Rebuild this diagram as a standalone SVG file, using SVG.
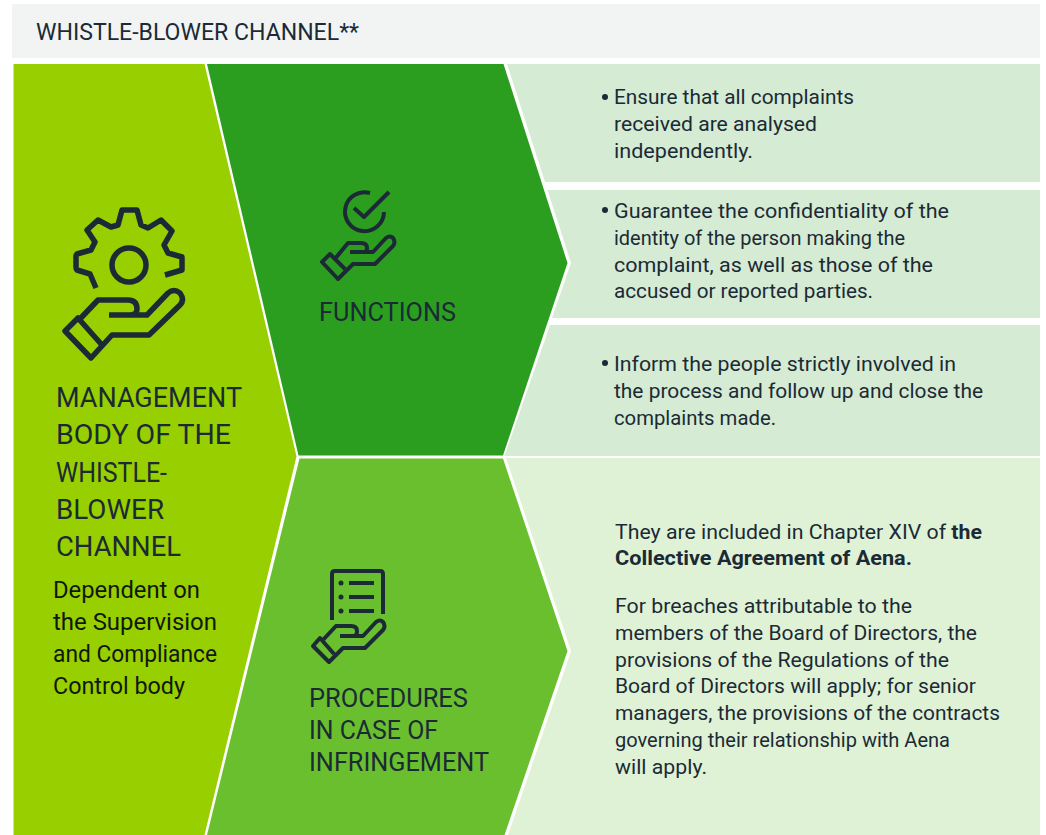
<svg xmlns="http://www.w3.org/2000/svg" width="1046" height="835" viewBox="0 0 1046 835">
<style>
text{font-family:"Roboto","Liberation Sans",sans-serif;fill:#1b2a35}
.h{font-size:26px;font-weight:400}
.b{font-size:21px}
.s{font-weight:700}
text.t{font-size:23px;fill:#10180c}
.i{fill:none;stroke:#1b2a35;stroke-linejoin:round}
</style>
<rect width="1046" height="835" fill="#fff"/>
<g id="header"><rect x="12" y="4" width="1028" height="54" fill="#f2f4f4"/>
<text class="h" x="36" y="40" style="font-size:24px" textLength="323" lengthAdjust="spacingAndGlyphs">WHISTLE-BLOWER CHANNEL**</text></g>
<g id="management">
<polygon points="13.5,64 204.500,64 296.500,456.500 204.500,835 13.500,835" fill="#98cf00"/>
<g class="i" stroke-width="5.500">
<path d="M96 288 L90 274 L77 270 Q76 269 76 267 L76 256 Q76 255 77 254 L91 250 L95 242 L87 230 L98 220 L111 227 L118 225 L122 210 L137 210 L141 225 L148 228 L161 220 L172 231 L164 245 L168 253 L182 257 L182 270 L165 275"/>
<circle cx="129" cy="265" r="17"/>
<path d="M78 321 L98 300 H128 Q137 300 137 309 Q137 315 130 315 H109 M109 315 H147 L168 293 Q174 288 180 293 Q185 300 180 305 L149 335 H112 L91 358 L65 331 L78 318 L102 345"/></g>
<text class="h" x="56" y="407" textLength="186" lengthAdjust="spacingAndGlyphs" style="font-size:28px">MANAGEMENT</text>
<text class="h" x="56" y="444" textLength="175" lengthAdjust="spacingAndGlyphs" style="font-size:28px">BODY OF THE</text>
<text class="h" x="56" y="482" textLength="111" lengthAdjust="spacingAndGlyphs" style="font-size:28px">WHISTLE-</text>
<text class="h" x="56" y="519" textLength="108" lengthAdjust="spacingAndGlyphs" style="font-size:28px">BLOWER</text>
<text class="h" x="56" y="556" textLength="125" lengthAdjust="spacingAndGlyphs" style="font-size:28px">CHANNEL</text>
<text class="t" x="53" y="598" textLength="147" lengthAdjust="spacingAndGlyphs">Dependent on</text>
<text class="t" x="53" y="630" textLength="164" lengthAdjust="spacingAndGlyphs">the Supervision</text>
<text class="t" x="53" y="662" textLength="164" lengthAdjust="spacingAndGlyphs">and Compliance</text>
<text class="t" x="53" y="694" textLength="132" lengthAdjust="spacingAndGlyphs">Control body</text>
</g>
<g id="functions">
<polygon points="207,64 503.500,64 567.500,263 503,455.500 298.500,455.500" fill="#2b9e1f"/>
<g class="i" stroke-width="4">
<path d="M384 212 A19.500 19.500 0 1 1 370 193"/>
<path d="M354 208 L364 217 L389 192"/>
<path d="M334 260 L348 243 H361 Q367 243 367 248 Q367 252 364 252 H350 M350 252 H373 L386 238 Q390 235 393 238 Q396 242 393 246 L375 264 H353 L338 279 L322 262 L330 254 L345 269"/></g>
<text class="h" x="319" y="321" textLength="137" lengthAdjust="spacingAndGlyphs">FUNCTIONS</text>
</g>
<g id="procedures">
<polygon points="299.500,458.500 503,458.500 567.500,651 504.500,835 207,835" fill="#6abf2e"/>
<g class="i" stroke-width="4">
<path d="M332 620 V574 Q332 571 335 571 H380 Q383 571 383 574 V614"/>
<path d="M349 583 H374 M349 597 H374 M349 611 H374"/>
<path d="M322 641 L336 626 H351 Q357 626 357 631 Q357 636 354 636 H340 M340 636 H363 L376 622 Q380 619 383 622 Q386 626 383 630 L365 648 H343 L329 662 L313 646 L320 638 L334 654"/></g>
<g fill="#1b2a35"><circle cx="341" cy="583" r="2.500"/><circle cx="341" cy="597" r="2.500"/><circle cx="341" cy="611" r="2.500"/></g>
<text class="h" x="309" y="707" textLength="159" lengthAdjust="spacingAndGlyphs">PROCEDURES</text>
<text class="h" x="309" y="739" textLength="129" lengthAdjust="spacingAndGlyphs">IN CASE OF</text>
<text class="h" x="309" y="771" textLength="180" lengthAdjust="spacingAndGlyphs">INFRINGEMENT</text>
</g>
<g id="function-1">
<polygon points="507,64 1040,64 1040,182 545,182" fill="#d5ebd4"/>
<circle cx="605" cy="97" r="3" fill="#1b2a35"/>
<text class="b" x="614" y="104" textLength="240" lengthAdjust="spacingAndGlyphs">Ensure that all complaints</text>
<text class="b" x="614" y="131" textLength="203" lengthAdjust="spacingAndGlyphs">received are analysed</text>
<text class="b" x="614" y="158" textLength="139" lengthAdjust="spacingAndGlyphs">independently.</text>
</g>
<g id="function-2">
<polygon points="547.500,190 1040,190 1040,318 552,318 571,263" fill="#d5ebd4"/>
<circle cx="605" cy="210" r="3" fill="#1b2a35"/>
<text class="b" x="614" y="218" textLength="335" lengthAdjust="spacingAndGlyphs">Guarantee the confidentiality of the</text>
<text class="b" x="614" y="245" textLength="291" lengthAdjust="spacingAndGlyphs">identity of the person making the</text>
<text class="b" x="614" y="272" textLength="319" lengthAdjust="spacingAndGlyphs">complaint, as well as those of the</text>
<text class="b" x="614" y="298" textLength="259" lengthAdjust="spacingAndGlyphs">accused or reported parties.</text>
</g>
<g id="function-3">
<polygon points="550,325 1040,325 1040,456 504.500,456" fill="#d5ebd4"/>
<circle cx="605" cy="363" r="3" fill="#1b2a35"/>
<text class="b" x="614" y="371" textLength="342" lengthAdjust="spacingAndGlyphs">Inform the people strictly involved in</text>
<text class="b" x="614" y="398" textLength="369" lengthAdjust="spacingAndGlyphs">the process and follow up and close the</text>
<text class="b" x="614" y="425" textLength="162" lengthAdjust="spacingAndGlyphs">complaints made.</text>
</g>
<g id="procedure-detail">
<polygon points="506,458 1040,458 1040,835 508,835 571,651" fill="#e0f2d5"/>
<text class="b" x="615" y="539" textLength="367" lengthAdjust="spacingAndGlyphs">They are included in Chapter XIV of <tspan class="s">the</tspan></text>
<text class="b s" x="615" y="565" textLength="297" lengthAdjust="spacingAndGlyphs">Collective Agreement of Aena.</text>
<text class="b" x="615" y="613" textLength="297" lengthAdjust="spacingAndGlyphs">For breaches attributable to the</text>
<text class="b" x="615" y="640" textLength="362" lengthAdjust="spacingAndGlyphs">members of the Board of Directors, the</text>
<text class="b" x="615" y="667" textLength="334" lengthAdjust="spacingAndGlyphs">provisions of the Regulations of the</text>
<text class="b" x="615" y="693" textLength="361" lengthAdjust="spacingAndGlyphs">Board of Directors will apply; for senior</text>
<text class="b" x="615" y="720" textLength="385" lengthAdjust="spacingAndGlyphs">managers, the provisions of the contracts</text>
<text class="b" x="615" y="747" textLength="335" lengthAdjust="spacingAndGlyphs">governing their relationship with Aena</text>
<text class="b" x="615" y="774" textLength="92" lengthAdjust="spacingAndGlyphs">will apply.</text>
</g>
</svg>
